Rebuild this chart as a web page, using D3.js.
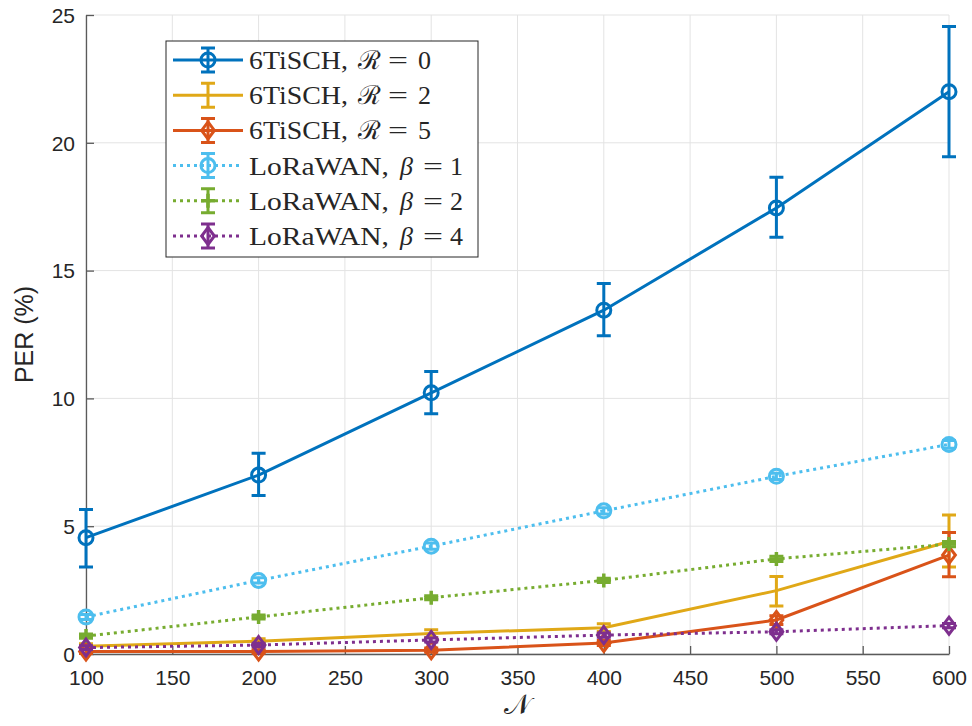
<!DOCTYPE html>
<html>
<head>
<meta charset="utf-8">
<script src="https://cdn.jsdelivr.net/npm/d3@7"></script>
<style>
  body { margin: 0; background: #fff; }
  svg { display: block; }
  .tick text { font-family: "Liberation Sans", Arial, sans-serif; font-size: 21px; fill: #262626; }
</style>
</head>
<body>
<div id="chart"></div>
<script>
// data
const nodes = [100, 200, 300, 400, 500, 600];
const xTicks = [100, 150, 200, 250, 300, 350, 400, 450, 500, 550, 600];
const yTicks = [0, 5, 10, 15, 20, 25];

const r0 = [4.55, 7.0, 10.22, 13.45, 17.45, 22.0];
const r0Lo = [3.4, 6.2, 9.4, 12.45, 16.3, 19.45];
const r0Hi = [5.65, 7.85, 11.05, 14.5, 18.65, 24.55];

const r2 = [0.3, 0.5, 0.8, 1.03, 2.48, 4.4];
const r2Lo = [0.2, 0.4, 0.65, 0.88, 1.88, 3.4];
const r2Hi = [0.4, 0.6, 0.95, 1.18, 3.03, 5.44];

const r5 = [0.1, 0.1, 0.15, 0.43, 1.33, 3.87];
const r5Lo = [0.02, 0.03, 0.07, 0.33, 1.15, 3.02];
const r5Hi = [0.18, 0.17, 0.23, 0.53, 1.5, 4.75];

const b1 = [1.45, 2.88, 4.22, 5.6, 6.95, 8.2];
const b1Lo = [1.35, 2.78, 4.1, 5.48, 6.83, 8.05];
const b1Hi = [1.55, 2.98, 4.34, 5.72, 7.07, 8.35];

const b2 = [0.7, 1.45, 2.2, 2.88, 3.72, 4.3];
const b2Lo = [0.62, 1.37, 2.12, 2.8, 3.62, 4.2];
const b2Hi = [0.78, 1.53, 2.28, 2.96, 3.82, 4.4];

const b4 = [0.25, 0.35, 0.55, 0.74, 0.87, 1.11];
const b4Lo = [0.18, 0.28, 0.47, 0.66, 0.79, 1.03];
const b4Hi = [0.32, 0.42, 0.63, 0.82, 0.95, 1.19];

const series = [
  {name: "6TiSCH,", sym: "ℛ", val: "0", y: r0, lo: r0Lo, hi: r0Hi, color: "#0072BD", dash: null, marker: "circle"},
  {name: "6TiSCH,", sym: "ℛ", val: "2", y: r2, lo: r2Lo, hi: r2Hi, color: "#E0A817", dash: null, marker: "none"},
  {name: "6TiSCH,", sym: "ℛ", val: "5", y: r5, lo: r5Lo, hi: r5Hi, color: "#D95319", dash: null, marker: "diamond"},
  {name: "LoRaWAN,", sym: "β", val: "1", y: b1, lo: b1Lo, hi: b1Hi, color: "#4DBEEE", dash: "3 4", marker: "circle"},
  {name: "LoRaWAN,", sym: "β", val: "2", y: b2, lo: b2Lo, hi: b2Hi, color: "#77AC30", dash: "3 4", marker: "plus"},
  {name: "LoRaWAN,", sym: "β", val: "4", y: b4, lo: b4Lo, hi: b4Hi, color: "#7E2F8E", dash: "3 4", marker: "diamond"}
];

const W = 972, H = 726;
const margin = {top: 15, right: 23, bottom: 72, left: 86};

const svg = d3.select("#chart").append("svg")
  .attr("width", W).attr("height", H);

const x = d3.scaleLinear().domain([100, 600]).range([margin.left, W - margin.right]);
const y = d3.scaleLinear().domain([0, 25]).range([H - margin.bottom, margin.top]);

// grid
svg.append("g").selectAll("line").data(xTicks).join("line")
  .attr("x1", d => x(d)).attr("x2", d => x(d))
  .attr("y1", y(0)).attr("y2", y(25))
  .attr("stroke", "#e3e3e3").attr("stroke-width", 1);
svg.append("g").selectAll("line").data(yTicks).join("line")
  .attr("x1", x(100)).attr("x2", x(600))
  .attr("y1", d => y(d)).attr("y2", d => y(d))
  .attr("stroke", "#e3e3e3").attr("stroke-width", 1);

// axes
const xAxis = svg.append("g")
  .attr("transform", `translate(0,${y(0)})`)
  .call(d3.axisBottom(x).tickValues(xTicks).tickSizeInner(-8).tickSizeOuter(0).tickPadding(16));
const yAxis = svg.append("g")
  .attr("transform", `translate(${x(100)},0)`)
  .call(d3.axisLeft(y).tickValues(yTicks).tickSizeInner(-8).tickSizeOuter(0).tickPadding(11));
[xAxis, yAxis].forEach(a => {
  a.select(".domain").attr("stroke", "#5a5a5a").attr("stroke-width", 1.3);
  a.selectAll(".tick line").attr("stroke", "#5a5a5a").attr("stroke-width", 1.3);
});
xAxis.selectAll(".tick text").attr("dy", "0.71em");
yAxis.selectAll(".tick text").attr("dy", "0.35em");

// axis labels
svg.append("text")
  .attr("transform", `translate(33,${(y(0) + y(25)) / 2}) rotate(-90)`)
  .attr("text-anchor", "middle")
  .attr("font-family", "Liberation Sans, Arial, sans-serif")
  .attr("font-size", 25).attr("fill", "#262626")
  .text("PER (%)");
svg.append("text")
  .attr("x", (x(100) + x(600)) / 2).attr("y", 714)
  .attr("text-anchor", "middle")
  .attr("font-family", "DejaVu Serif, serif")
  .attr("font-size", 28).attr("fill", "#262626")
  .text("𝒩");

function drawMarker(g, type, cx, cy, color) {
  if (type === "circle") {
    g.append("circle").attr("cx", cx).attr("cy", cy).attr("r", 7)
      .attr("fill", "none").attr("stroke", color).attr("stroke-width", 3);
  } else if (type === "diamond") {
    const s = 8.5;
    g.append("path")
      .attr("d", `M${cx},${cy - s}L${cx + s * 0.75},${cy}L${cx},${cy + s}L${cx - s * 0.75},${cy}Z`)
      .attr("fill", "none").attr("stroke", color).attr("stroke-width", 3);
  } else if (type === "plus") {
    const s = 7;
    g.append("path")
      .attr("d", `M${cx - s},${cy}H${cx + s}M${cx},${cy - s}V${cy + s}`)
      .attr("stroke", color).attr("stroke-width", 3.5);
  }
}

function drawErr(g, cx, y1, y2, color) {
  const c = 7;
  g.append("path")
    .attr("d", `M${cx},${y1}V${y2}M${cx - c},${y1}H${cx + c}M${cx - c},${y2}H${cx + c}`)
    .attr("fill", "none").attr("stroke", color).attr("stroke-width", 3);
}

const line = d3.line().x((d, i) => x(nodes[i])).y(d => y(d));

series.forEach(s => {
  const g = svg.append("g");
  g.append("path")
    .attr("d", line(s.y))
    .attr("fill", "none").attr("stroke", s.color).attr("stroke-width", 3)
    .attr("stroke-dasharray", s.dash);
  nodes.forEach((n, i) => {
    drawErr(g, x(n), y(s.lo[i]), y(s.hi[i]), s.color);
    drawMarker(g, s.marker, x(n), y(s.y[i]), s.color);
  });
});

// legend
const lg = svg.append("g").attr("transform", "translate(166,41)");
lg.append("rect").attr("width", 312).attr("height", 216)
  .attr("fill", "#fff").attr("stroke", "#262626").attr("stroke-width", 1);
series.forEach((s, i) => {
  const ry = 19 + i * 35.2;
  const lora = s.name.startsWith("Lo");
  const row = lg.append("g");
  row.append("line").attr("x1", 7).attr("x2", 77).attr("y1", ry).attr("y2", ry)
    .attr("stroke", s.color).attr("stroke-width", 3).attr("stroke-dasharray", s.dash);
  drawErr(row, 42, ry + 12, ry - 12, s.color);
  drawMarker(row, s.marker, 42, ry, s.color);
  const font = row.append("g")
    .attr("font-family", "Liberation Serif, DejaVu Serif, serif")
    .attr("font-size", 26).attr("fill", "#262626");
  font.append("text").attr("x", 83).attr("y", ry + 9)
    .attr("textLength", lora ? 140 : 99).attr("lengthAdjust", "spacingAndGlyphs")
    .text(s.name);
  font.append("text").attr("x", lora ? 234 : 192).attr("y", ry + 9)
    .attr("font-style", lora ? "italic" : null)
    .text(s.sym);
  font.append("text").attr("x", lora ? 257 : 222).attr("y", ry + 9)
    .attr("textLength", 20).attr("lengthAdjust", "spacingAndGlyphs")
    .text("=");
  font.append("text").attr("x", lora ? 284 : 252).attr("y", ry + 9)
    .text(s.val);
});
</script>
</body>
</html>
